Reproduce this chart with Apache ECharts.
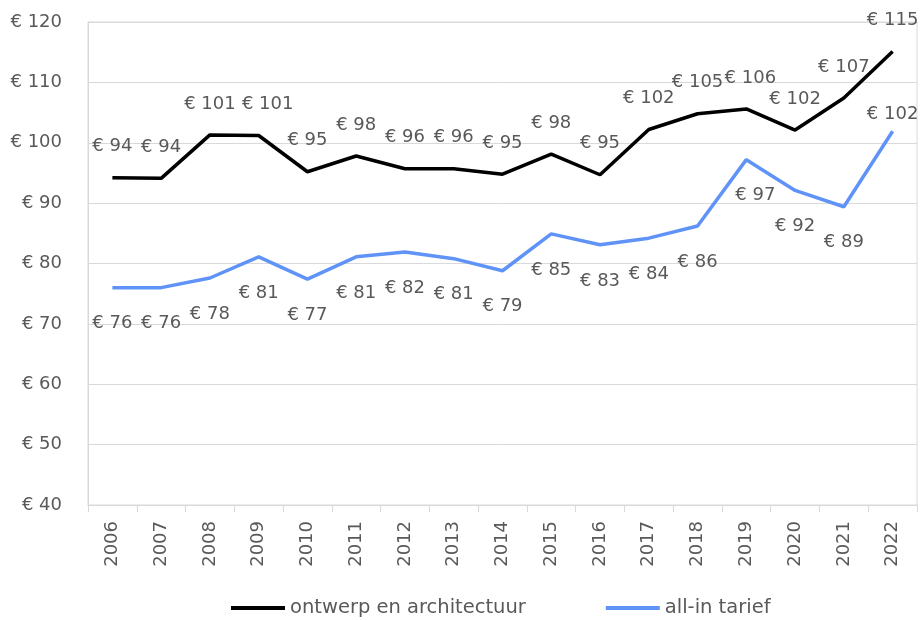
<!DOCTYPE html>
<html>
<head>
<meta charset="utf-8">
<script src="https://cdn.jsdelivr.net/npm/echarts@6/dist/echarts.min.js"></script>
<style>
html,body{margin:0;padding:0;background:#fff;}
#chart{width:922px;height:620px;}
</style>
</head>
<body>
<div id="chart"></div>
<script>
const years = ['2006','2007','2008','2009','2010','2011','2012','2013','2014','2015','2016','2017','2018','2019','2020','2021','2022'];
const ontwerpValues = [94.2, 94.1, 101.3, 101.2, 95.2, 97.8, 95.7, 95.7, 94.8, 98.1, 94.7, 102.2, 104.8, 105.6, 102.1, 107.4, 115.1];
const allinValues = [76.0, 76.0, 77.6, 81.1, 77.4, 81.1, 81.9, 80.8, 78.8, 84.9, 83.1, 84.2, 86.2, 97.2, 92.1, 89.4, 101.9];
const seriesNames = ['ontwerp en architectuur', 'all-in tarief'];

const FONT = 'DejaVu Sans';
const TXT = '#595959';
const chart = echarts.init(document.getElementById('chart'), null, {renderer: 'canvas'});
const fmt = p => '€ ' + Math.round(p.value);

// label placement tweaks (style only): shift some labels right via left padding
const shiftRight = {padding: [0, 0, 0, 18]};
const shiftSmall = {padding: [0, 0, 0, 8]};
const ontwerpData = ontwerpValues.map((v, i) => i === 3 ? {value: v, label: shiftRight}
  : (i === 13 ? {value: v, label: shiftSmall} : v));
const allinData = allinValues.map((v, i) => i === allinValues.length - 1
  ? {value: v, label: {position: 'top', distance: 8}}
  : (i === 13 ? {value: v, label: shiftRight} : v));

chart.setOption({
  animation: false,
  textStyle: {fontFamily: FONT},
  grid: {left: 88, right: 5, top: 22, bottom: 115, show: true, borderColor: '#d9d9d9', borderWidth: 1},
  legend: {
    bottom: 2, left: 231, padding: 0,
    icon: 'rect', itemWidth: 54, itemHeight: 4, itemGap: 80,
    textStyle: {fontFamily: FONT, fontSize: 19.5, color: TXT},
    data: seriesNames
  },
  xAxis: {
    type: 'category', data: years, boundaryGap: true,
    axisLine: {lineStyle: {color: '#d9d9d9', width: 1}},
    axisTick: {show: true, length: 7, lineStyle: {color: '#d9d9d9'}},
    axisLabel: {rotate: 90, margin: 16, fontSize: 18, color: TXT, fontFamily: FONT}
  },
  yAxis: {
    type: 'value', min: 40, max: 120, interval: 10,
    axisLine: {show: true, lineStyle: {color: '#d9d9d9'}},
    axisTick: {show: false},
    splitLine: {lineStyle: {color: '#d9d9d9', width: 1}},
    axisLabel: {formatter: v => '€ ' + v, margin: 26, fontSize: 18, color: TXT, fontFamily: FONT}
  },
  series: [
    {
      name: seriesNames[0], type: 'line', data: ontwerpData,
      symbol: 'circle', symbolSize: 0.1, showSymbol: true,
      lineStyle: {color: '#000000', width: 3.5}, itemStyle: {color: '#000000'},
      labelLayout: {hideOverlap: false},
      label: {show: true, position: 'top', distance: 22, formatter: fmt, fontSize: 18, color: TXT, fontFamily: FONT}
    },
    {
      name: seriesNames[1], type: 'line', data: allinData,
      symbol: 'circle', symbolSize: 0.1, showSymbol: true,
      lineStyle: {color: '#5f93f7', width: 3.5}, itemStyle: {color: '#5f93f7'},
      labelLayout: {hideOverlap: false},
      label: {show: true, position: 'bottom', distance: 27, formatter: fmt, fontSize: 18, color: TXT, fontFamily: FONT}
    }
  ]
});
</script>
</body>
</html>
